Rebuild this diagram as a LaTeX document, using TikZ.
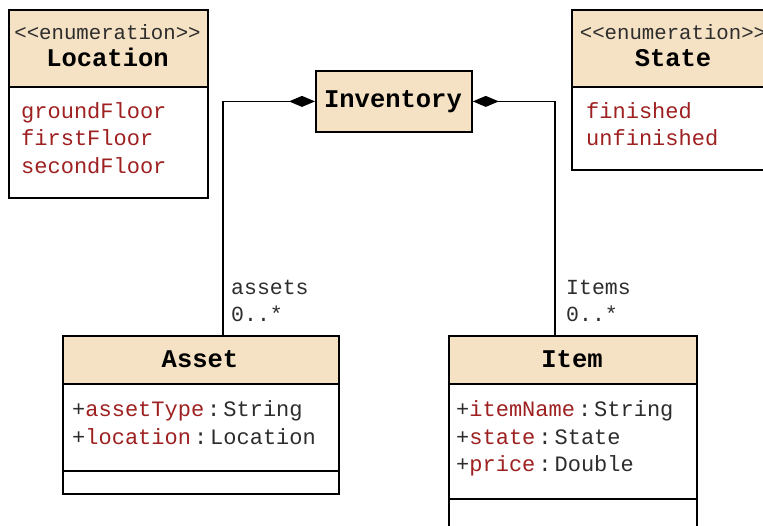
\documentclass[tikz,border=0pt]{standalone}
\usepackage{fontspec}
\setmonofont{Liberation Mono}
\usetikzlibrary{arrows.meta}
\definecolor{hdr}{RGB}{245,225,195}
\definecolor{attr}{RGB}{158,32,32}
\definecolor{typ}{RGB}{45,45,45}
\newcommand{\mem}[2]{+\textcolor{attr}{#1}\hspace{3pt}:\hspace{3pt}#2}
\begin{document}
\begin{tikzpicture}[x=1pt,y=-1pt,
  hdrbox/.style={draw=black, line width=1.8pt, fill=hdr, inner sep=0pt, anchor=north west},
  bodybox/.style={draw=black, line width=1.8pt, fill=white, inner sep=0pt, anchor=north west},
  stereo/.style={anchor=base, inner sep=0pt, text=typ, font=\ttfamily\fontsize{20.7}{24}\selectfont},
  title/.style={anchor=base, inner sep=0pt, font=\ttfamily\bfseries\fontsize{25.5}{30}\selectfont},
  lit/.style={anchor=base west, inner sep=0pt, text=attr, font=\ttfamily\fontsize{22}{26}\selectfont},
  member/.style={anchor=base west, inner sep=0pt, text=typ, font=\ttfamily\fontsize{22}{26}\selectfont},
  rolelabel/.style={anchor=base west, inner sep=0pt, text=typ, font=\ttfamily\fontsize{21.5}{26}\selectfont},
  conn/.style={line width=1.5pt, {Diamond[length=26pt,width=11pt]}-}
]
\useasboundingbox (0,0) rectangle (763,526);
\clip (0,0) rectangle (763,526);

% Location
\node[hdrbox, minimum width=199pt, minimum height=77pt] (loch) at (8,9) {};
\node[bodybox, minimum width=199pt, minimum height=111pt] (locb) at (8,86) {};
\node[stereo] (locst) at (107.5,40) {\textless\textless enumeration\textgreater\textgreater};
\node[title] (loct) at (107.5,67) {Location};
\node[lit] (l1) at (21,118.5) {groundFloor};
\node[lit] (l2) at (21,146) {firstFloor};
\node[lit] (l3) at (21,173.5) {secondFloor};

% State
\node[hdrbox, minimum width=204pt, minimum height=77pt] (sth) at (571,9) {};
\node[bodybox, minimum width=204pt, minimum height=83pt] (stb) at (571,86) {};
\node[stereo] (stst) at (673,40) {\textless\textless enumeration\textgreater\textgreater};
\node[title] (stt) at (673,67) {State};
\node[lit] (s1) at (586,118.5) {finished};
\node[lit] (s2) at (586,146) {unfinished};

% Inventory
\node[hdrbox, minimum width=156pt, minimum height=61pt] (inv) at (315,70) {};
\node[title] (invt) at (393,108) {Inventory};

% Asset
\node[hdrbox, minimum width=276pt, minimum height=48pt] (ash) at (62,335) {};
\node[bodybox, minimum width=276pt, minimum height=87pt] (asb) at (62,383) {};
\node[bodybox, minimum width=276pt, minimum height=23pt] (aso) at (62,470) {};
\node[title] (ast) at (200,368) {Asset};
\node[member] (a1) at (72,416.5) {\mem{assetType}{String}};
\node[member] (a2) at (72,444) {\mem{location}{Location}};

% Item
\node[hdrbox, minimum width=248pt, minimum height=48pt] (ith) at (448,335) {};
\node[bodybox, minimum width=248pt, minimum height=115pt] (itb) at (448,383) {};
\node[bodybox, minimum width=248pt, minimum height=50pt] (ito) at (448,498) {};
\node[title] (itt) at (572,368) {Item};
\node[member] (i1) at (456,416.5) {\mem{itemName}{String}};
\node[member] (i2) at (456,444) {\mem{state}{State}};
\node[member] (i3) at (456,471.5) {\mem{price}{Double}};

% connectors
\coordinate (ac) at (223,335);
\coordinate (ic) at (555,335);
\draw[conn] (inv.west) -| (ac);
\draw[conn] (inv.east) -| (ic);
\node[rolelabel] (r1) at (231,295) {assets};
\node[rolelabel] (r2) at (231,322) {0..*};
\node[rolelabel] (r3) at (566,295) {Items};
\node[rolelabel] (r4) at (566,322) {0..*};
\end{tikzpicture}
\end{document}
